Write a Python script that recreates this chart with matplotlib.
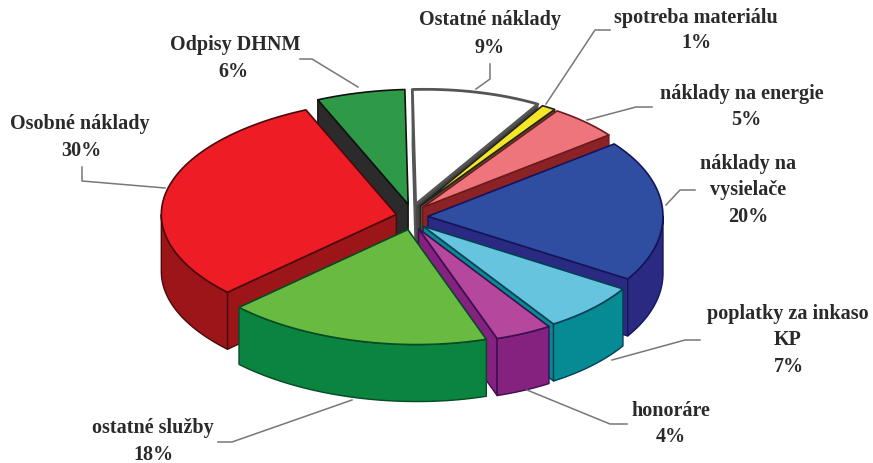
import numpy as np
import matplotlib
matplotlib.use("Agg")
import matplotlib.pyplot as plt
from matplotlib.patches import Polygon

# clockwise from the top
names = ["Ostatné náklady", "spotreba materiálu", "náklady na energie", "náklady na\nvysielače",
         "poplatky za inkaso\nKP", "honoráre", "ostatné služby", "Osobné náklady", "Odpisy DHNM"]
shares = [9, 1, 5, 20, 7, 4, 18, 30, 6]

top_colors = ["#ffffff", "#f5e626", "#ee757c", "#2f4ea1", "#66c4de", "#b5479d", "#68bb40", "#ee1c25", "#2e9a48"]
wall_colors = ["#444444", "#555522", "#8a2226", "#2a2a82", "#068a94", "#85217f", "#0b8440", "#9c1519", "#2b2b2b"]
edge_colors = ["#555555", "#222222", "#6b1a1e", "#14145a", "#043f55", "#3c0f50", "#064a26", "#4a0a0c", "#111111"]
edge_widths = [2.0, 1.2, 1.2, 1.2, 1.2, 1.2, 1.2, 1.2, 1.2]

label_pos = [(490, 20), (696, 18), (742, 94), (748, 164), (788, 314), (671, 411), (153, 428), (80, 124), (235, 45)]
pct_pos = [(490, 48), (696, 43), (746, 120), (748, 217), (789, 367), (671, 437), (153, 455), (81, 151), (233, 72)]

leaders = [
    [(490, 65), (490, 80), (476, 90)],
    [(610, 31), (595, 31), (546, 105)],
    [(652, 108), (636, 108), (587, 121)],
    [(695, 191), (680, 191), (666, 206)],
    [(700, 341), (685, 341), (612, 361)],
    [(627, 425), (610, 425), (527, 391)],
    [(218, 443), (232, 443), (352, 401)],
    [(82, 168), (82, 182), (165, 189)],
    [(300, 60), (312, 60), (358, 88)],
]

cx, cy = 412, 218
rx, ry = 235, 115
depth = 57
start = 93
off_x, off_y = 16, 13
skew = 9  # rim leans right at the top and bottom, the original has some perspective


def arc(t0, t1, ox, oy, n=60):
    t = np.radians(np.linspace(t0, t1, n))
    return np.column_stack([cx + ox + rx * np.cos(t) + skew * np.sin(t) ** 2, cy + oy - ry * np.sin(t)])


fig = plt.figure(figsize=(8.73, 4.64), dpi=100)
ax = fig.add_axes([0, 0, 1, 1])
ax.set_xlim(0, 873)
ax.set_ylim(464, 0)
ax.axis("off")

bounds = start - np.cumsum([0] + shares) * 3.6
mids = (bounds[:-1] + bounds[1:]) / 2

# back slices first, front ones paint over them
for i in np.argsort(-np.sin(np.radians(mids))):
    t0, t1 = bounds[i], bounds[i + 1]
    ox = off_x * np.cos(np.radians(mids[i]))
    oy = -off_y * np.sin(np.radians(mids[i]))
    apex = np.array([cx + ox, cy + oy])
    down = np.array([0, depth])
    kw = dict(facecolor=wall_colors[i], edgecolor=edge_colors[i], lw=1.0, joinstyle="round")

    # radial cut walls, only those turned towards the viewer
    if np.cos(np.radians(t0)) < 0:
        rim = arc(t0, t0, ox, oy, 1)[0]
        ax.add_patch(Polygon([apex, rim, rim + down, apex + down], **kw))
    if np.cos(np.radians(t1)) > 0:
        rim = arc(t1, t1, ox, oy, 1)[0]
        ax.add_patch(Polygon([apex, rim, rim + down, apex + down], **kw))

    # outer wall, the part below the horizontal
    for k in range(-2, 2):
        a, b = max(t1, 180 + 360 * k), min(t0, 360 + 360 * k)
        if b > a:
            rim = arc(b, a, ox, oy)
            ax.add_patch(Polygon(np.vstack([rim, (rim + down)[::-1]]), **kw))

    top = np.vstack([[apex], arc(t0, t1, ox, oy)])
    ax.add_patch(Polygon(top, facecolor=top_colors[i], edgecolor=edge_colors[i], lw=edge_widths[i], joinstyle="round"))

for pts in leaders:
    xs, ys = zip(*pts)
    ax.plot(xs, ys, color="#777777", lw=1.1, solid_joinstyle="round")

font = dict(family="Liberation Serif", weight="bold", fontsize=14.5, color="#2a2a2a", ha="center", va="center")
for name, share, lp, pp in zip(names, shares, label_pos, pct_pos):
    lines = name.split("\n")
    for j, line in enumerate(lines):
        ax.text(lp[0], lp[1] + j * 26.5, line, **font)
    ax.text(pp[0], pp[1], f"{share}%", **font)

fig.savefig("out.png", dpi=100)
